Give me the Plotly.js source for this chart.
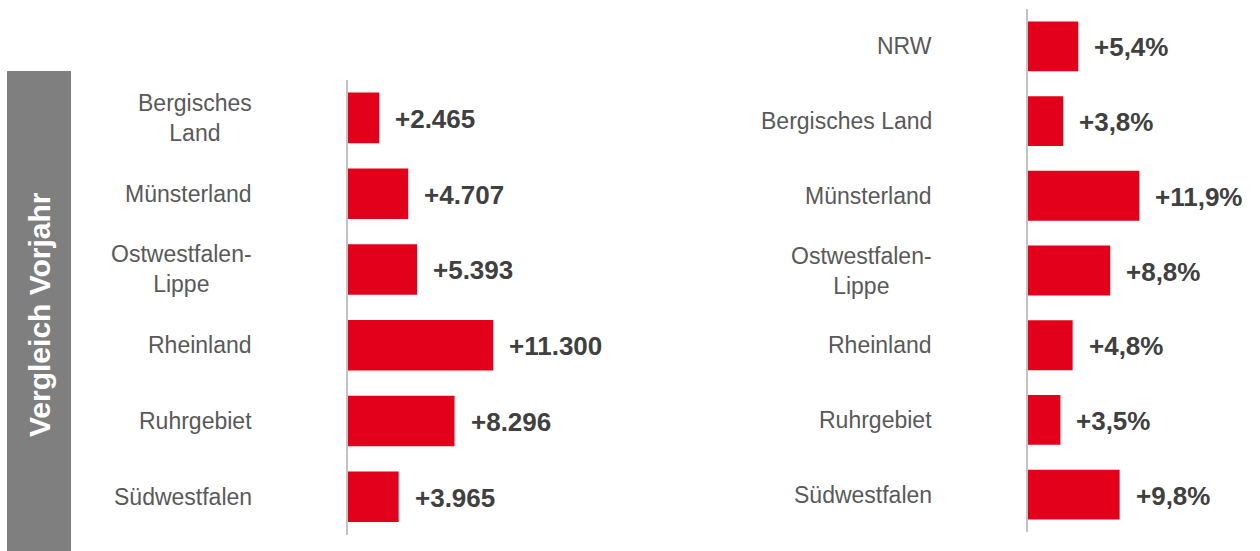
<!DOCTYPE html>
<html>
<head>
<meta charset="utf-8">
<script src="https://cdn.plot.ly/plotly-3.0.1.min.js"></script>
<style>
  html, body { margin: 0; padding: 0; background: #ffffff; }
  #chart { width: 1260px; height: 551px; }
</style>
</head>
<body>
<div id="chart"></div>
<script>
// ---- Data ----
const leftCategories = ["Bergisches Land", "Münsterland", "Ostwestfalen-Lippe", "Rheinland", "Ruhrgebiet", "Südwestfalen"];
const leftLabels = ["Bergisches<br>Land", "Münsterland", "Ostwestfalen-<br>Lippe", "Rheinland", "Ruhrgebiet", "Südwestfalen"];
const leftValues = [2465, 4707, 5393, 11300, 8296, 3965];

const rightCategories = ["NRW", "Bergisches Land", "Münsterland", "Ostwestfalen-Lippe", "Rheinland", "Ruhrgebiet", "Südwestfalen"];
const rightLabels = ["NRW", "Bergisches Land", "Münsterland", "Ostwestfalen-<br>Lippe", "Rheinland", "Ruhrgebiet", "Südwestfalen"];
const rightValues = [5.4, 3.8, 11.9, 8.8, 4.8, 3.5, 9.8];

const sideTitle = "Vergleich Vorjahr";

// ---- Formatting helpers (German number style) ----
function fmtThousands(v) {
  const s = String(Math.round(v));
  return "+" + s.replace(/\B(?=(\d{3})+(?!\d))/g, ".");
}
function fmtPercent(v) {
  return "+" + v.toFixed(1).replace(".", ",") + "%";
}

// ---- Styles ----
const W = 1260, H = 551;
const red = "#e2001a";
const catColor = "#595959";
const valColor = "#404040";
const axisGray = "#c3c3c3";
const fontFam = "Arial, 'Liberation Sans', sans-serif";

const px = v => v / W;          // horizontal pixel -> paper
const py = v => (H - v) / H;    // vertical pixel (from top) -> paper

const traces = [
  {
    type: "bar", orientation: "h",
    x: leftValues, y: leftCategories,
    xaxis: "x", yaxis: "y",
    marker: { color: red },
    hoverinfo: "skip"
  },
  {
    type: "bar", orientation: "h",
    x: rightValues, y: rightCategories,
    xaxis: "x2", yaxis: "y2",
    marker: { color: red },
    hoverinfo: "skip"
  }
];

const annotations = [];
leftCategories.forEach((c, i) => {
  annotations.push({
    xref: "paper", yref: "y", x: px(254), y: c,
    xanchor: "right", yanchor: "middle", align: "center",
    text: leftLabels[i], showarrow: false,
    font: { family: fontFam, size: 23, color: catColor }
  });
  annotations.push({
    xref: "x", yref: "y", x: leftValues[i], y: c, yshift: -1,
    xanchor: "left", yanchor: "middle", xshift: 14,
    text: "<b>" + fmtThousands(leftValues[i]) + "</b>", showarrow: false,
    font: { family: fontFam, size: 26, color: valColor }
  });
});
rightCategories.forEach((c, i) => {
  annotations.push({
    xref: "paper", yref: "y2", x: px(934), y: c,
    xanchor: "right", yanchor: "middle", align: "center",
    text: rightLabels[i], showarrow: false,
    font: { family: fontFam, size: 23, color: catColor }
  });
  annotations.push({
    xref: "x2", yref: "y2", x: rightValues[i], y: c, yshift: -1,
    xanchor: "left", yanchor: "middle", xshift: 14,
    text: "<b>" + fmtPercent(rightValues[i]) + "</b>", showarrow: false,
    font: { family: fontFam, size: 26, color: valColor }
  });
});
annotations.push({
  xref: "paper", yref: "paper", x: px(39), y: py(315),
  xanchor: "center", yanchor: "middle", textangle: -90,
  text: "<b>" + sideTitle + "</b>", showarrow: false,
  font: { family: fontFam, size: 30, color: "#ffffff" }
});

const hiddenX = { showgrid: false, zeroline: false, showticklabels: false, showline: false, ticks: "", fixedrange: true };

const layout = {
  width: W, height: H,
  margin: { l: 0, r: 0, t: 0, b: 0, pad: 0 },
  paper_bgcolor: "#ffffff", plot_bgcolor: "rgba(0,0,0,0)",
  showlegend: false,
  bargap: 0.333,
  font: { family: fontFam },
  xaxis: Object.assign({}, hiddenX, { domain: [px(347.5), px(620)], range: [0, 272.5 / 0.0129], anchor: "y" }),
  yaxis: {
    domain: [py(534.6), py(80)], type: "category", range: [5.5, -0.5],
    showgrid: false, zeroline: false, showticklabels: false, ticks: "",
    showline: true, linecolor: axisGray, linewidth: 2, anchor: "x", fixedrange: true
  },
  xaxis2: Object.assign({}, hiddenX, { domain: [px(1027.5), 1], range: [0, 232.5 / 9.4], anchor: "y2" }),
  yaxis2: {
    domain: [py(532), py(9)], type: "category", range: [6.5, -0.5],
    showgrid: false, zeroline: false, showticklabels: false, ticks: "",
    showline: true, linecolor: axisGray, linewidth: 2, anchor: "x2", fixedrange: true
  },
  shapes: [
    { type: "rect", xref: "paper", yref: "paper", layer: "below",
      x0: px(7), x1: px(71), y0: 0, y1: py(71),
      fillcolor: "#7f7f7f", line: { width: 0 } }
  ],
  annotations: annotations
};

Plotly.newPlot("chart", traces, layout, { displayModeBar: false, staticPlot: true });
</script>
</body>
</html>
